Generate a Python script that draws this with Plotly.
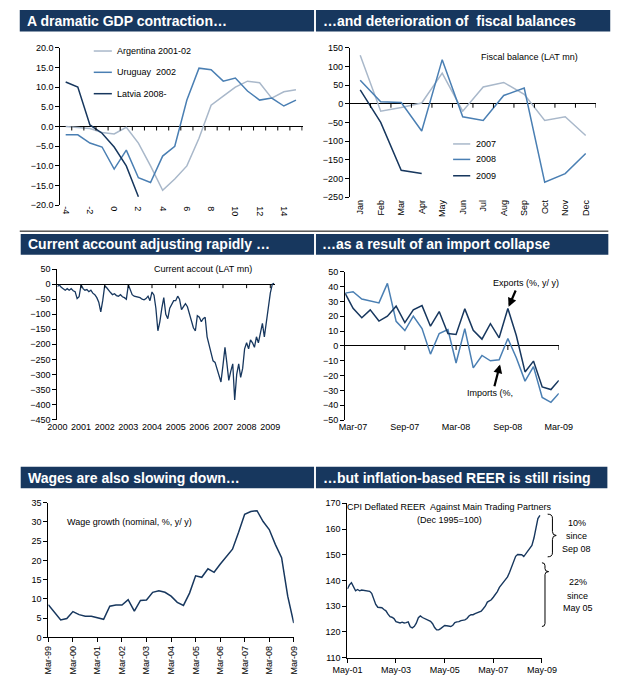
import plotly.graph_objects as go
import pandas as pd

# ---------------- data ----------------
gdp_quarters = list(range(-4, 16))
gdp_tick_vals = [-4, -2, 0, 2, 4, 6, 8, 10, 12, 14]
gdp_tick_labels = ["-4", "-2", "0", "2", "4", "6", "8", "10", "12", "14"]
argentina_2001 = [0.0, -0.3, -0.5, -1.5, -1.9, -0.2, -4.2, -10.0, -16.2, -13.3,
                  -10.0, -3.0, 5.4, 7.7, 10.0, 11.5, 11.1, 7.2, 8.8, 9.3]
uruguay_2002 = [-2.1, -2.1, -4.2, -5.2, -10.8, -6.0, -13.0, -14.2, -7.5, -5.0,
                6.7, 14.8, 14.4, 11.5, 12.3, 9.0, 6.7, 7.2, 5.2, 6.7]
latvia_2008 = [11.3, 10.0, 0.4, -1.7, -5.2, -10.0, -17.8]

fiscal_months = ["Jan", "Feb", "Mar", "Apr", "May", "Jun", "Jul", "Aug", "Sep", "Oct", "Nov", "Dec"]
fiscal_2007 = [130, -20, -10, 2, 82, -20, 45, 57, 25, -45, -35, -85]
fiscal_2008 = [63, 5, 3, -73, 118, -35, -45, 22, 42, -210, -187, -133]
fiscal_2009 = [37, -50, -178, -187]

ca_start = "2000-01-01"
current_account = [
    -8, -3, -10, -15, -20, -15, -20, -15, -22, -25, -48, -42,
    -2, -15, -20, -18, -25, -20, -30, -35, -45, -60, -92, -55,
    -5, -12, -18, -28, -35, -32, -38, -40, -35, -42, -45, -50,
    -2, -20, -35, -40, -42, -45, -45, -50, -52, -48, -40, -55,
    -26, -37, -80, -155, -125, -80, -45, -100, -115, -80, -65, -55,
    -55, -40, -50, -85, -75, -65, -75, -100, -120, -145, -155, -105,
    -110, -125, -115, -110, -175, -205, -230, -255, -260, -280, -300, -325,
    -270, -210, -260, -320, -290, -265, -385, -300, -265, -310, -280, -215,
    -195, -215, -185, -195, -210, -175, -195, -165, -130, -175, -120, -75,
    -30, 0, 3]
ca_tick_labels = ["2000", "2001", "2002", "2003", "2004", "2005", "2006", "2007", "2008", "2009"]

trade_start = "2007-02-01"
exports_yoy = [35.4, 25.4, 19.0, 24.3, 16.8, 20.1, 26.8, 15.7, 24.3, 27.2, 13.3, 23.2, 8.4,
               7.7, 25.0, 10.6, 4.6, 15.0, 5.5, 25.2, 7.0, -17.5, -10.2, -27.6, -29.4, -23.2]
imports_yoy = [35.6, 36.5, 31.6, 30.5, 29.0, 42.2, 16.6, 10.4, 20.1, 11.7, -5.5, 8.4, 11.0,
               -11.5, 11.7, -14.8, -6.4, -10.0, -9.3, 5.0, -8.0, -23.7, -13.9, -34.7, -38.0, -32.0]
trade_tick_labels = ["Mar-07", "Sep-07", "Mar-08", "Sep-08", "Mar-09"]

wage_start = "1999-03-01"
wage_growth = [8.5, 6.4, 4.5, 4.9, 6.7, 5.9, 5.5, 5.5, 5.1, 4.7, 8.1, 8.4, 8.4, 9.8, 6.8,
               9.6, 9.7, 11.7, 12.1, 11.7, 10.7, 9.1, 8.3, 11.5, 16.0, 15.6, 17.8, 16.9,
               19.0, 21.1, 22.9, 27.3, 32.0, 32.7, 32.9, 30.1, 28.0, 24.1, 20.7, 10.7, 3.7]
wage_tick_labels = ["Mar-99", "Mar-00", "Mar-01", "Mar-02", "Mar-03", "Mar-04",
                    "Mar-05", "Mar-06", "Mar-07", "Mar-08", "Mar-09"]

reer_start = "2001-05-01"
reer = [136.7, 138.3, 139.1, 137.8, 136.0, 136.5, 136.0, 136.3, 136.2, 136.1, 136.1, 135.8,
        135.0, 132.8, 130.7, 129.6, 129.5, 129.4, 128.7, 128.2, 126.9, 125.9, 125.7, 125.2,
        124.0, 123.7, 123.5, 123.8, 123.5, 123.6, 123.9, 122.0, 121.6, 122.2, 123.4, 125.5,
        126.2, 125.6, 125.2, 124.9, 124.6, 124.1, 123.2, 121.7, 120.8, 120.8, 121.3, 121.9,
        122.5, 122.4, 122.1, 122.1, 122.6, 123.6, 123.9, 124.0, 124.4, 124.5, 124.7, 125.2,
        126.2, 126.7, 126.7, 127.1, 127.4, 127.5, 128.1, 129.0, 130.0, 131.6, 132.1, 132.5,
        133.5, 134.5, 135.7, 137.3, 138.4, 139.3, 140.6, 141.4, 143.2, 145.3, 147.9, 149.4,
        150.1, 150.1, 150.0, 149.3, 150.3, 151.5, 152.2, 153.6, 156.5, 160.8, 164.1, 165.3]
reer_tick_labels = ["May-01", "May-03", "May-05", "May-07", "May-09"]

# ---------------- styling ----------------
W, H = 630, 686
NAVY = "#17375e"
MID = "#4a7fb3"
LIGHT = "#a9b8ca"
FONT = "Liberation Sans, Arial, sans-serif"
TICKFONT = dict(family=FONT, size=9, color="black")


def dom_x(a, b):
    return [a / W, b / W]


def dom_y(top, bottom):
    return [1 - bottom / H, 1 - top / H]


def px(x):
    return x / W


def py(y):
    return 1 - y / H


def month_series(start, n):
    return pd.date_range(start, periods=n, freq="MS")


fig = go.Figure()

# Panel 1: GDP
fig.add_trace(go.Scatter(x=gdp_quarters, y=argentina_2001, mode="lines",
                         line=dict(color=LIGHT, width=1.5), xaxis="x", yaxis="y"))
fig.add_trace(go.Scatter(x=gdp_quarters, y=uruguay_2002, mode="lines",
                         line=dict(color=MID, width=1.5), xaxis="x", yaxis="y"))
fig.add_trace(go.Scatter(x=gdp_quarters[:len(latvia_2008)], y=latvia_2008, mode="lines",
                         line=dict(color=NAVY, width=1.5), xaxis="x", yaxis="y"))

# Panel 2: fiscal
fig.add_trace(go.Scatter(x=fiscal_months, y=fiscal_2007, mode="lines",
                         line=dict(color=LIGHT, width=1.5), xaxis="x2", yaxis="y2"))
fig.add_trace(go.Scatter(x=fiscal_months, y=fiscal_2008, mode="lines",
                         line=dict(color=MID, width=1.5), xaxis="x2", yaxis="y2"))
fig.add_trace(go.Scatter(x=fiscal_months[:len(fiscal_2009)], y=fiscal_2009, mode="lines",
                         line=dict(color=NAVY, width=1.5), xaxis="x2", yaxis="y2"))

# Panel 3: current account
ca_dates = month_series(ca_start, len(current_account))
fig.add_trace(go.Scatter(x=ca_dates, y=current_account, mode="lines",
                         line=dict(color=NAVY, width=1.3), xaxis="x3", yaxis="y3"))

# Panel 4: trade
trade_dates = month_series(trade_start, len(exports_yoy))
fig.add_trace(go.Scatter(x=trade_dates, y=imports_yoy, mode="lines",
                         line=dict(color=MID, width=1.5), xaxis="x4", yaxis="y4"))
fig.add_trace(go.Scatter(x=trade_dates, y=exports_yoy, mode="lines",
                         line=dict(color=NAVY, width=1.5), xaxis="x4", yaxis="y4"))

# Panel 5: wages
wage_dates = pd.date_range(wage_start, periods=len(wage_growth), freq="QS-MAR")
fig.add_trace(go.Scatter(x=wage_dates, y=wage_growth, mode="lines",
                         line=dict(color=NAVY, width=1.5), xaxis="x5", yaxis="y5"))

# Panel 6: REER
reer_dates = month_series(reer_start, len(reer))
fig.add_trace(go.Scatter(x=reer_dates, y=reer, mode="lines",
                         line=dict(color=NAVY, width=1.4), xaxis="x6", yaxis="y6"))


def xaxis_zero(domain, anchor, **kw):
    d = dict(domain=domain, anchor=anchor, showline=False, ticks="", showgrid=False,
             zeroline=False, tickfont=TICKFONT, fixedrange=True)
    d.update(kw)
    return d


def yaxis(domain, anchor, rng, dtick, zero=True, **kw):
    d = dict(domain=domain, anchor=anchor, range=rng, dtick=dtick, tick0=rng[0],
             showline=True, linecolor="black", linewidth=1, ticks="outside", ticklen=4,
             tickcolor="black", tickwidth=1, showgrid=False, zeroline=zero,
             zerolinecolor="black", zerolinewidth=1, tickfont=TICKFONT, fixedrange=True)
    d.update(kw)
    return d


def to_dates(labels, fmt):
    return [pd.to_datetime(s, format=fmt) for s in labels]


ca_ticks = to_dates(ca_tick_labels, "%Y")
trade_ticks = to_dates(trade_tick_labels, "%b-%y")
wage_ticks = to_dates(wage_tick_labels, "%b-%y")
reer_ticks = to_dates(reer_tick_labels, "%b-%y")

fig.update_layout(
    width=W, height=H, margin=dict(l=0, r=0, t=0, b=0),
    paper_bgcolor="white", plot_bgcolor="white", showlegend=False,
    font=dict(family=FONT, size=9, color="black"),
    xaxis=xaxis_zero(dom_x(47.5, 302), "y", range=[-4.45, 15.55], tickmode="array",
                     tickvals=gdp_tick_vals, ticktext=gdp_tick_labels, tickangle=90),
    yaxis=yaxis(dom_y(43.3, 203.3), "x", [-20, 20], 5, tickformat=".1f"),
    xaxis2=xaxis_zero(dom_x(351.7, 610), "y2", type="category", range=[-0.5, 11.5],
                      tickangle=-90),
    yaxis2=yaxis(dom_y(43.3, 195), "x2", [-250, 150], 50),
    xaxis3=xaxis_zero(dom_x(44.5, 272.7), "y3", type="date",
                      range=[ca_dates[0], pd.Timestamp("2009-03-10")], tickmode="array",
                      tickvals=ca_ticks, ticktext=ca_tick_labels, tickangle=0),
    yaxis3=yaxis(dom_y(268, 420.7), "x3", [-450, 50], 50),
    xaxis4=xaxis_zero(dom_x(346.7, 571), "y4", type="date",
                      range=[trade_dates[0], trade_dates[-1]], tickmode="array",
                      tickvals=trade_ticks, ticktext=trade_tick_labels, tickangle=0),
    yaxis4=yaxis(dom_y(270.7, 421.3), "x4", [-50, 50], 10),
    xaxis5=dict(domain=dom_x(35, 292.7), anchor="y5", type="date",
                range=[wage_ticks[0], wage_ticks[-1]], tickmode="array",
                tickvals=wage_ticks, ticktext=wage_tick_labels, tickangle=-90,
                showline=True, linecolor="black", ticks="outside", ticklen=4,
                tickcolor="black", showgrid=False, zeroline=False, tickfont=TICKFONT,
                fixedrange=True),
    yaxis5=yaxis(dom_y(505, 641.7), "x5", [0, 35], 5, zero=False),
    xaxis6=dict(domain=dom_x(349, 553.3), anchor="y6", type="date",
                range=[reer_ticks[0], reer_ticks[-1]], tickmode="array",
                tickvals=reer_ticks, ticktext=reer_tick_labels, tickangle=0,
                showline=True, linecolor="black", ticks="outside", ticklen=4,
                tickcolor="black", showgrid=False, zeroline=False, tickfont=TICKFONT,
                fixedrange=True),
    yaxis6=yaxis(dom_y(505.7, 662.3), "x6", [110, 170], 10, zero=False),
)

shapes = []
annotations = []


def zero_ticks(xref, yref, xs):
    for xv in xs:
        shapes.append(dict(type="line", xref=xref, yref=yref, x0=xv, x1=xv,
                           ysizemode="pixel", yanchor=0, y0=0, y1=-4,
                           line=dict(color="black", width=1)))


zero_ticks("x", "y", [q + 0.5 for q in gdp_quarters])
zero_ticks("x2", "y2", [i + 0.5 for i in range(len(fiscal_months))])
zero_ticks("x3", "y3", ca_ticks[1:])
zero_ticks("x4", "y4", trade_ticks[1:])


# title bars
def title_bar(x0, x1, y0, y1, text, tx):
    shapes.append(dict(type="rect", xref="paper", yref="paper", x0=px(x0), x1=px(x1),
                       y0=py(y1), y1=py(y0), fillcolor=NAVY, line=dict(width=0), layer="below"))
    annotations.append(dict(xref="paper", yref="paper", x=px(tx), y=py((y0 + y1) / 2),
                            xanchor="left", yanchor="middle", showarrow=False,
                            text="<b>" + text + "</b>",
                            font=dict(family=FONT, size=14, color="white")))


title_bar(5, 314, 5, 27, "A dramatic GDP contraction…", 11)
title_bar(316, 625, 5, 27, "…and deterioration of  fiscal balances", 321)
title_bar(6, 314, 232.5, 253.5, "Current account adjusting rapidly …", 12)
title_bar(316, 623, 232.5, 253.5, "…as a result of an import collapse", 320)
title_bar(6, 314, 468.5, 490.5, "Wages are also slowing down…", 12)
title_bar(316, 622, 468.5, 490.5, "…but inflation-based REER is still rising", 321)

# separator under top row
shapes.append(dict(type="line", xref="paper", yref="paper", x0=px(5), x1=px(623),
                   y0=py(229.5), y1=py(229.5), line=dict(color="black", width=1)))


def text(x, y, s, anchor="center", size=9):
    annotations.append(dict(xref="paper", yref="paper", x=px(x), y=py(y), text=s,
                            xanchor=anchor, yanchor="middle", showarrow=False,
                            font=dict(family=FONT, size=size, color="black")))


def legend_item(x0, x1, y, color, label):
    shapes.append(dict(type="line", xref="paper", yref="paper", x0=px(x0), x1=px(x1),
                       y0=py(y), y1=py(y), line=dict(color=color, width=1.5)))
    text(x1 + 3.5, y, label, anchor="left")


legend_item(82.7, 101.7, 46.7, LIGHT, "Argentina 2001-02")
legend_item(82.7, 101.7, 68.3, MID, "Uruguay  2002")
legend_item(82.7, 101.7, 90, NAVY, "Latvia 2008-")

legend_item(460, 478, 141, LIGHT, "2007")
legend_item(460, 478, 156.7, MID, "2008")
legend_item(460, 478, 173.3, NAVY, "2009")

text(540, 52.5, "Fiscal balance (LAT mn)")
text(197.5, 267.5, "Current accout (LAT mn)")
text(120.5, 525, "Wage growth (nominal, %, y/ y)")
text(456, 509.5, "CPI Deflated REER  Against Main Trading Partners")
text(456.5, 522.5, "(Dec 1995=100)")

text(536.5, 282.5, "Exports (%, y/ y)")
text(499, 394, "Imports (%,")


def arrow(hx, hy, tx, ty):
    annotations.append(dict(xref="paper", yref="paper", x=px(hx), y=py(hy), ax=tx - hx,
                            ay=ty - hy, axref="pixel", ayref="pixel", text="",
                            showarrow=True, arrowhead=2, arrowsize=0.8, arrowwidth=2.2,
                            arrowcolor="black"))


arrow(518.3, 306.3, 526, 288.5)
arrow(509.3, 364.7, 503.3, 388)


# braces
def brace(x0, xm, xt, yt, ym, yb, r=4):
    pts = [(x0, yt), (xm, yt), (xm, yt + r), (xm, ym - r), (xm, ym), (xt, ym),
           (xm, ym), (xm, ym + r), (xm, yb - r), (xm, yb), (x0, yb)]
    p = [f"{px(a):.5f},{py(b):.5f}" for a, b in pts]
    path = (f"M {p[0]} Q {p[1]} {p[2]} L {p[3]} Q {p[4]} {p[5]} "
            f"Q {p[6]} {p[7]} L {p[8]} Q {p[9]} {p[10]}")
    shapes.append(dict(type="path", xref="paper", yref="paper", path=path,
                       line=dict(color="black", width=1)))


brace(559.3, 564.3, 568.3, 516.7, 538.3, 560)
brace(553.3, 556.5, 560.3, 566, 575, 630.7, r=3)

text(590, 526, "10%")
text(590, 539, "since")
text(590, 551.7, "Sep 08")
text(591, 586, "22%")
text(591, 599.3, "since")
text(591, 612, "May 05")

fig.update_layout(shapes=shapes, annotations=annotations)

# remove the browser's default 8px body margin so the figure sits at (0, 0); hide the modebar
fig.write_html("out.html", config={"displayModeBar": False},
               post_script="document.body.style.margin='0';document.body.style.padding='0';")
